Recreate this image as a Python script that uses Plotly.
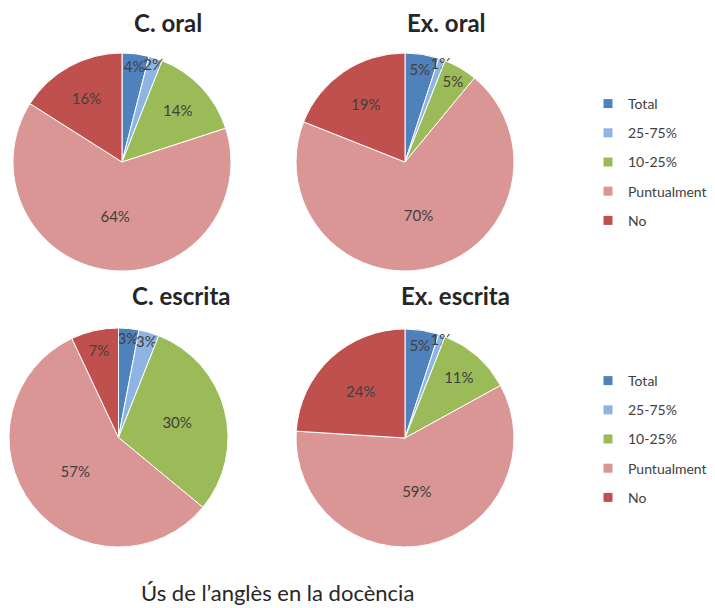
import plotly.graph_objects as go

categories = ["Total", "25-75%", "10-25%", "Puntualment", "No"]
colors = ["#4F81BD", "#8EB4E3", "#9BBB59", "#D99694", "#C0504D"]

titles = ["C. oral", "Ex. oral", "C. escrita", "Ex. escrita"]
c_oral = [4, 2, 14, 64, 16]
ex_oral = [5, 1, 5, 70, 19]
c_escrita = [3, 3, 30, 57, 7]
ex_escrita = [5, 1, 11, 59, 24]
series = [c_oral, ex_oral, c_escrita, ex_escrita]

W, H = 715, 608
# pie boxes in pixels: (left, top, size)
boxes = [(13, 53, 218), (296, 53, 218), (9, 328, 219), (296, 329, 218)]
title_pos = [(168, 22), (446, 22), (181, 295), (455, 295)]

FONT = "Lato"
TXT = "#404040"

fig = go.Figure()
for vals, (l, t, s) in zip(series, boxes):
    fig.add_trace(go.Pie(
        labels=categories, values=vals, sort=False,
        direction="clockwise", rotation=0,
        marker=dict(colors=colors, line=dict(color="white", width=1)),
        textinfo="percent", textposition="inside",
        insidetextorientation="horizontal",
        textfont=dict(family=FONT, size=15, color=TXT),
        domain=dict(x=[l / W, (l + s) / W], y=[1 - (t + s) / H, 1 - t / H]),
        showlegend=False, hoverinfo="label+percent"))

# legend entries (one group per category so the gap can be set)
for leg in ["legend", "legend2"]:
    for cat, col in zip(categories, colors):
        fig.add_trace(go.Scatter(
            x=[None], y=[None], mode="markers", name=cat,
            marker=dict(symbol="square", size=9, color=col),
            legendgroup=leg + cat, legend=leg, showlegend=True))

for txt, (x, y) in zip(titles, title_pos):
    fig.add_annotation(x=x / W, y=1 - y / H, xref="paper", yref="paper",
                       xanchor="center", yanchor="middle",
                       text="<b>" + txt + "</b>", showarrow=False,
                       font=dict(family=FONT, size=24, color="#262626"))

fig.add_annotation(x=277 / W, y=1 - 592 / H, xref="paper", yref="paper",
                   xanchor="center", yanchor="middle",
                   text="Ús de l’anglès en la docència", showarrow=False,
                   font=dict(family=FONT, size=22, color="#262626"))

leg_style = dict(xanchor="left", yanchor="top", tracegroupgap=8,
                 itemwidth=30, bgcolor="rgba(0,0,0,0)",
                 font=dict(family=FONT, size=14, color=TXT))
fig.update_layout(
    width=W, height=H,
    margin=dict(l=0, r=0, t=0, b=0, autoexpand=False),
    paper_bgcolor="white", plot_bgcolor="white",
    xaxis=dict(visible=False), yaxis=dict(visible=False),
    uniformtext=dict(minsize=15, mode="show"),
    legend=dict(x=588 / W, y=1 - 88 / H, **leg_style),
    legend2=dict(x=588 / W, y=1 - 365 / H, **leg_style),
)

fig.write_html("out.html", config={"displayModeBar": False},
               post_script="document.body.style.margin='0';")
